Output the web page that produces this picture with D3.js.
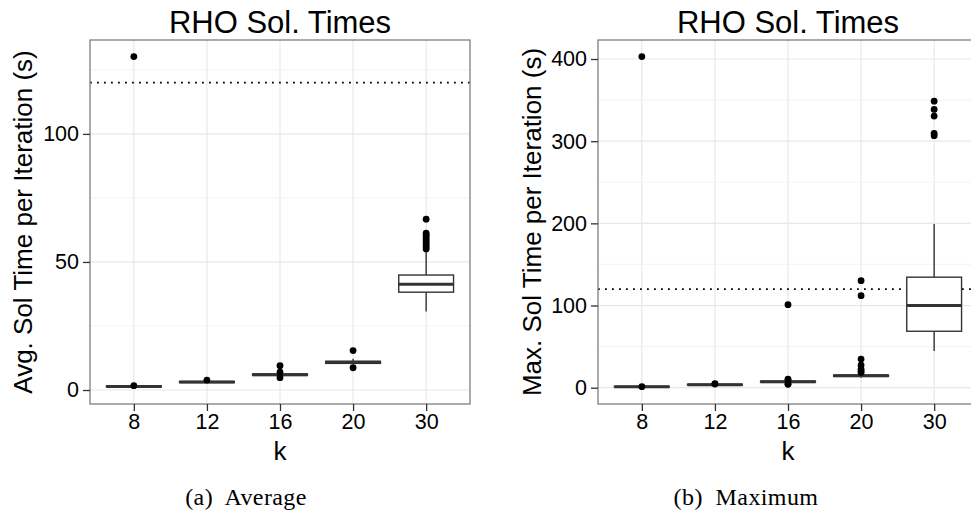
<!DOCTYPE html>
<html>
<head>
<meta charset="utf-8">
<script src="https://cdn.jsdelivr.net/npm/d3@7"></script>
<style>
  html, body { margin: 0; padding: 0; background: #fff; overflow: hidden; }
  svg { display: block; }
</style>
</head>
<body>
<svg id="chart" width="971" height="525"></svg>
<script>
// ---------- data ----------
const categories = ["8", "12", "16", "20", "30"];
const threshold = 120;

// (a) Average sol time per iteration
const avgWhiskerLow  = [1.0, 2.7, 5.5, 10.0, 30.7];
const avgQ1          = [1.2, 2.9, 5.7, 10.4, 38.2];
const avgMedian      = [1.4, 3.1, 6.0, 10.8, 41.3];
const avgQ3          = [1.6, 3.3, 6.3, 11.2, 44.9];
const avgWhiskerHigh = [1.8, 3.6, 6.9, 12.2, 54.5];
const avgOutliers = [
  [130.2, 1.7],
  [3.9],
  [9.5, 7.0, 4.8],
  [15.4, 8.7],
  [66.7, 61.2, 60.5, 59.8, 59.0, 58.2, 57.4, 56.6, 55.8, 55.1]
];

// (b) Maximum sol time per iteration
const maxWhiskerLow  = [0.3, 2.8, 5.5, 12.0, 44.8];
const maxQ1          = [0.8, 3.2, 6.5, 13.8, 68.7];
const maxMedian      = [1.2, 3.7, 7.3, 14.6, 100.0];
const maxQ3          = [1.6, 4.2, 8.0, 15.4, 134.5];
const maxWhiskerHigh = [2.2, 4.8, 9.0, 17.0, 199.3];
const maxOutliers = [
  [403.0, 1.3],
  [5.0, 4.4],
  [101.0, 10.5, 9.6, 4.1, 4.7],
  [130.2, 112.0, 34.8, 27.5, 22.7, 20.4, 18.6],
  [348.7, 338.7, 330.5, 309.6, 306.7]
];

const yTicksAvg = [0, 50, 100];
const yMinorAvg = [25, 75, 125];
const yTicksMax = [0, 100, 200, 300, 400];
const yMinorMax = [50, 150, 250, 350];

// ---------- drawing ----------
const svg = d3.select("#chart");
svg.append("rect").attr("width", 971).attr("height", 525).attr("fill", "#fff");

const FONT = "'Liberation Sans', Arial, Helvetica, sans-serif";

function panel(opts) {
  const { x0, x1, y0, y1, lo, q1, med, q3, hi, outs, yTicks, yMinor, ytitle, ytitleX, caption, captionX } = opts;
  const g = svg.append("g");

  const stats = categories.map((c, i) => ({ c, lo: lo[i], q1: q1[i], med: med[i], q3: q3[i], hi: hi[i], outs: outs[i] }));
  const allVals = stats.flatMap(s => [s.lo, s.hi, ...s.outs]);
  const [mn, mx] = d3.extent(allVals);
  const pad = 0.05 * (mx - mn);

  const x = d3.scalePoint().domain(categories).range([x0, x1]).padding(0.6);
  const y = d3.scaleLinear().domain([mn - pad, mx + pad]).range([y1, y0]);
  const bw = x.step() * 0.75;

  const clipId = "clip" + Math.round(x0);
  svg.append("clipPath").attr("id", clipId)
    .append("rect").attr("x", x0).attr("y", y0).attr("width", x1 - x0).attr("height", y1 - y0);

  const pg = g.append("g").attr("clip-path", `url(#${clipId})`);
  // minor grid
  pg.selectAll(".minor").data(yMinor).join("line")
    .attr("x1", x0).attr("x2", x1).attr("y1", d => y(d)).attr("y2", d => y(d))
    .attr("stroke", "#f5f5f5").attr("stroke-width", 1.2);
  // major grid
  pg.selectAll(".majorY").data(yTicks).join("line")
    .attr("x1", x0).attr("x2", x1).attr("y1", d => y(d)).attr("y2", d => y(d))
    .attr("stroke", "#e8e8e8").attr("stroke-width", 1.2);
  pg.selectAll(".majorX").data(categories).join("line")
    .attr("x1", d => x(d)).attr("x2", d => x(d)).attr("y1", y0).attr("y2", y1)
    .attr("stroke", "#e8e8e8").attr("stroke-width", 1.2);

  // threshold dotted line
  pg.append("line")
    .attr("x1", x0).attr("x2", x1).attr("y1", y(threshold)).attr("y2", y(threshold))
    .attr("stroke", "#000").attr("stroke-width", 1.8)
    .attr("stroke-dasharray", "1.8,5.2");

  // boxes
  const bg = pg.selectAll(".box").data(stats).join("g");
  bg.append("line")
    .attr("x1", d => x(d.c)).attr("x2", d => x(d.c))
    .attr("y1", d => y(d.hi)).attr("y2", d => y(d.q3))
    .attr("stroke", "#333").attr("stroke-width", 1.4);
  bg.append("line")
    .attr("x1", d => x(d.c)).attr("x2", d => x(d.c))
    .attr("y1", d => y(d.q1)).attr("y2", d => y(d.lo))
    .attr("stroke", "#333").attr("stroke-width", 1.4);
  bg.append("rect")
    .attr("x", d => x(d.c) - bw / 2).attr("width", bw)
    .attr("y", d => y(d.q3)).attr("height", d => Math.max(0, y(d.q1) - y(d.q3)))
    .attr("fill", "#fff").attr("stroke", "#333").attr("stroke-width", 1.4);
  bg.append("line")
    .attr("x1", d => x(d.c) - bw / 2).attr("x2", d => x(d.c) + bw / 2)
    .attr("y1", d => y(d.med)).attr("y2", d => y(d.med))
    .attr("stroke", "#333").attr("stroke-width", 3);
  bg.selectAll("circle").data(d => d.outs.map(v => ({ c: d.c, v }))).join("circle")
    .attr("cx", d => x(d.c)).attr("cy", d => y(d.v)).attr("r", 3.4).attr("fill", "#000");

  // panel border
  g.append("rect").attr("x", x0).attr("y", y0).attr("width", x1 - x0).attr("height", y1 - y0)
    .attr("fill", "none").attr("stroke", "#7f7f7f").attr("stroke-width", 1.3);

  // y axis
  const ya = g.append("g").attr("transform", `translate(${x0},0)`)
    .call(d3.axisLeft(y).tickValues(yTicks).tickSize(7).tickPadding(4).tickFormat(d3.format("d")));
  ya.select(".domain").remove();
  ya.selectAll(".tick line").attr("stroke", "#333").attr("stroke-width", 1.3);
  ya.selectAll(".tick text").attr("font-family", FONT).attr("font-size", 21.5).attr("fill", "#000");

  // x axis
  const xa = g.append("g").attr("transform", `translate(0,${y1})`)
    .call(d3.axisBottom(x).tickSize(7).tickPadding(3));
  xa.select(".domain").remove();
  xa.selectAll(".tick line").attr("stroke", "#333").attr("stroke-width", 1.3);
  xa.selectAll(".tick text").attr("font-family", FONT).attr("font-size", 21.5).attr("fill", "#000");

  const cx = (x0 + x1) / 2;
  // title
  g.append("text").attr("x", cx).attr("y", 33).attr("text-anchor", "middle")
    .attr("font-family", FONT).attr("font-size", 31).attr("fill", "#000").text("RHO Sol. Times");
  // x title
  g.append("text").attr("x", cx).attr("y", 460).attr("text-anchor", "middle")
    .attr("font-family", FONT).attr("font-size", 26).attr("fill", "#000").text("k");
  // y title
  g.append("text").attr("transform", `translate(${ytitleX},${(y0 + y1) / 2}) rotate(-90)`)
    .attr("text-anchor", "middle")
    .attr("font-family", FONT).attr("font-size", 26).attr("fill", "#000").text(ytitle);
  // caption
  g.append("text").attr("x", captionX).attr("y", 505).attr("text-anchor", "middle")
    .attr("font-family", "'Liberation Serif', 'DejaVu Serif', serif").attr("font-size", 24)
    .attr("letter-spacing", 0.4)
    .attr("fill", "#000").attr("xml:space", "preserve").text(caption);
}

panel({
  x0: 90, x1: 470, y0: 40, y1: 404,
  lo: avgWhiskerLow, q1: avgQ1, med: avgMedian, q3: avgQ3, hi: avgWhiskerHigh, outs: avgOutliers,
  yTicks: yTicksAvg, yMinor: yMinorAvg,
  ytitle: "Avg. Sol Time per Iteration (s)", ytitleX: 32,
  caption: "(a)  Average", captionX: 246
});
panel({
  x0: 598, x1: 978, y0: 40, y1: 404,
  lo: maxWhiskerLow, q1: maxQ1, med: maxMedian, q3: maxQ3, hi: maxWhiskerHigh, outs: maxOutliers,
  yTicks: yTicksMax, yMinor: yMinorMax,
  ytitle: "Max. Sol Time per Iteration (s)", ytitleX: 541,
  caption: "(b)  Maximum", captionX: 746
});
</script>
</body>
</html>
